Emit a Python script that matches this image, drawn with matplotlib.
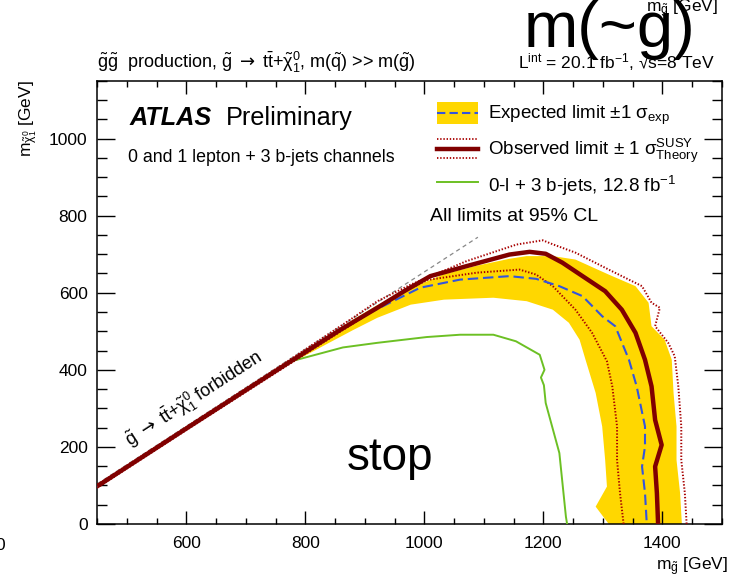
import numpy as np
import matplotlib
matplotlib.use('Agg')
import matplotlib.pyplot as plt
from matplotlib.lines import Line2D
from matplotlib.patches import Rectangle
from matplotlib.legend_handler import HandlerBase
from matplotlib.ticker import MultipleLocator

plt.rcParams['font.family'] = ['Liberation Sans', 'DejaVu Sans']
plt.rcParams['mathtext.fontset'] = 'custom'
plt.rcParams['mathtext.rm'] = 'Liberation Sans'
plt.rcParams['mathtext.it'] = 'Liberation Sans:italic'
plt.rcParams['mathtext.bf'] = 'Liberation Sans:bold'
plt.rcParams['mathtext.sf'] = 'DejaVu Sans'
plt.rcParams['mathtext.default'] = 'regular'
plt.rcParams['lines.scale_dashes'] = False

# m(gluino), m(neutralino) in GeV
# kinematic limit g -> t tbar + chi
diag_x = [450, 1090]
diag_y = [104, 744]

# observed limit
obs_x = [450, 600, 760, 860, 921, 966, 1010, 1071, 1143, 1177, 1204, 1232, 1266,
         1304, 1332, 1355, 1371, 1382, 1388, 1399, 1388, 1391, 1393]
obs_y = [98, 248, 407, 505, 561, 604, 643, 669, 699, 706, 701, 678, 643,
         604, 556, 496, 426, 357, 270, 205, 149, 80, 0]

# observed +1 sigma theory
obs_up_x = [450, 600, 760, 880, 921, 977, 1071, 1155, 1199, 1217, 1254, 1310, 1366,
            1382, 1396, 1388, 1410, 1421, 1427, 1432, 1432, 1438, 1441]
obs_up_y = [102, 252, 412, 535, 578, 621, 682, 725, 736, 725, 704, 660, 617,
            574, 561, 513, 470, 435, 357, 253, 166, 80, 0]

# observed -1 sigma theory
obs_dn_x = [450, 600, 760, 880, 950, 1005, 1088, 1160, 1188, 1216, 1254, 1282, 1307,
            1316, 1324, 1324, 1329, 1335]
obs_dn_y = [94, 244, 402, 520, 590, 633, 652, 660, 647, 617, 556, 496, 422,
            357, 253, 166, 80, 0]

# expected limit
exp_x = [450, 600, 760, 880, 921, 993, 1060, 1143, 1188, 1227, 1266, 1299, 1321,
         1344, 1357, 1371, 1371, 1366, 1371, 1374]
exp_y = [98, 248, 407, 525, 558, 613, 634, 643, 636, 617, 591, 539, 513,
         426, 357, 253, 201, 149, 80, 0]

# expected +-1 sigma band edges
band_up_x = [760, 880, 921, 977, 1033, 1088, 1143, 1172, 1216, 1254, 1310, 1355, 1377,
             1382, 1404, 1416, 1419, 1424, 1424, 1430, 1433]
band_up_y = [410, 530, 568, 612, 648, 670, 688, 695, 695, 686, 647, 617, 574,
             513, 478, 426, 340, 253, 166, 80, 0]
band_dn_x = [760, 830, 880, 921, 977, 1033, 1116, 1172, 1216, 1243, 1261, 1271, 1288,
             1299, 1304, 1307, 1288, 1310]
band_dn_y = [404, 462, 503, 535, 569, 582, 587, 578, 556, 522, 478, 426, 340,
             253, 166, 97, 45, 0]

# older 0-lepton result, 12.8 fb-1
green_x = [550, 771, 863, 921, 1004, 1060, 1116, 1154, 1194, 1202, 1196, 1201, 1204,
           1227, 1238, 1240]
green_y = [200, 420, 458, 470, 485, 491, 491, 474, 439, 400, 380, 360, 314,
           184, 19, 0]

band_col = '#ffd700'
exp_col = '#3355dd'
obs_col = '#800000'
theo_col = '#a80000'
green_col = '#6cc024'


class BandKey(HandlerBase):
    def create_artists(self, legend, orig, xd, yd, w, h, fs, trans):
        yc = h / 2 - yd
        bh = 1.2 * fs
        r = Rectangle((-xd, yc - bh / 2), w, bh, fc=band_col, ec='none', transform=trans)
        l = Line2D([-xd, w - xd], [yc, yc], color=exp_col, lw=1.5, dashes=(6, 3), transform=trans)
        return [r, l]


class ObsKey(HandlerBase):
    def create_artists(self, legend, orig, xd, yd, w, h, fs, trans):
        yc = h / 2 - yd
        off = 0.5 * fs
        out = []
        for dy in (-off, off):
            out.append(Line2D([-xd, w - xd], [yc + dy, yc + dy], color=theo_col, lw=1.3,
                              dashes=(1, 1.3), transform=trans))
        out.append(Line2D([-xd, w - xd], [yc, yc], color=obs_col, lw=3.2, transform=trans))
        return out


fig = plt.figure(figsize=(7.31, 5.77), dpi=100)
ax = fig.add_axes([0.1331, 0.0919, 0.8542, 0.7682])

ax.fill(np.concatenate([band_up_x, band_dn_x[::-1]]),
        np.concatenate([band_up_y, band_dn_y[::-1]]),
        color=band_col, lw=0, zorder=1)
ax.plot(diag_x, diag_y, color='#888888', lw=0.9, dashes=(3, 2.5), zorder=2)
ax.plot(green_x, green_y, color=green_col, lw=1.4, zorder=3)
ax.plot(obs_up_x, obs_up_y, color=theo_col, lw=1.4, dashes=(1, 1.3), zorder=4)
ax.plot(obs_dn_x, obs_dn_y, color=theo_col, lw=1.4, dashes=(1, 1.3), zorder=4)
ax.plot(exp_x, exp_y, color=exp_col, lw=1.5, dashes=(7.5, 3.5), zorder=5)
ax.plot(obs_x, obs_y, color=obs_col, lw=3.2, solid_capstyle='butt', zorder=6)

ax.set_xlim(450, 1500)
ax.set_ylim(0, 1150)
ax.xaxis.set_major_locator(MultipleLocator(200))
ax.xaxis.set_minor_locator(MultipleLocator(50))
ax.yaxis.set_major_locator(MultipleLocator(200))
ax.yaxis.set_minor_locator(MultipleLocator(50))
ax.tick_params(axis='both', which='both', direction='in', top=True, right=True, width=1)
ax.tick_params(axis='x', which='major', length=9.5, pad=9, labelsize=12.5)
ax.tick_params(axis='x', which='minor', length=4.5)
ax.tick_params(axis='y', which='major', length=13, pad=7, labelsize=12.5)
ax.tick_params(axis='y', which='minor', length=7)
for s in ax.spines.values():
    s.set_linewidth(1.1)

# legend
band_proxy = Rectangle((0, 0), 1, 1)
obs_proxy = Line2D([], [])
green_proxy = Line2D([], [], color=green_col, lw=1.4)
ax.legend([band_proxy, obs_proxy, green_proxy],
          ['Expected limit ±1 $\\sigma_{exp}$',
           'Observed limit ± 1 $\\sigma^{SUSY}_{Theory}$',
           '0-l + 3 b-jets, 12.8 fb$^{-1}$'],
          handler_map={band_proxy: BandKey(), obs_proxy: ObsKey()},
          loc='upper left', bbox_to_anchor=(0.5445, 0.958), frameon=False,
          fontsize=13.5, handlelength=2.19, handleheight=1.85, handletextpad=0.53,
          labelspacing=0.43, borderpad=0, borderaxespad=0)

# texts inside the frame
ax.text(0.0514, 0.901, 'ATLAS', transform=ax.transAxes, fontsize=18.2,
        fontweight='bold', fontstyle='italic')
ax.text(0.2065, 0.901, 'Preliminary', transform=ax.transAxes, fontsize=18.2)
ax.text(0.0497, 0.817, '0 and 1 lepton + 3 b-jets channels', transform=ax.transAxes,
        fontsize=12.8)
ax.text(0.533, 0.6835, 'All limits at 95% CL', transform=ax.transAxes, fontsize=14)
ax.text(0.469, 0.122, 'stop', transform=ax.transAxes, fontsize=33, ha='center')
ax.text(505, 200, r'$\tilde{g}\ \mathsf{\rightarrow}\ t\bar{t}$+$\tilde{\chi}^{0}_{1}$ forbidden',
        fontsize=13, rotation=33, rotation_mode='anchor', ha='left', va='baseline')

# texts around the frame
fig.text(0.1331, (577 - 68) / 577,
         r'$\tilde{g}\tilde{g}$  production, $\tilde{g}\ \mathsf{\rightarrow}\ t\bar{t}$+$\tilde{\chi}^{0}_{1}$, m($\tilde{q}$) >> m($\tilde{g}$)',
         fontsize=13, va='baseline')
fig.text(0.978, (577 - 68) / 577, 'L$^{int}$ = 20.1 fb$^{-1}$, √s=8 TeV',
         fontsize=12.5, va='baseline', ha='right')
fig.text(718 / 731, (577 - 12) / 577, r'$m_{\tilde{g}}$ [GeV]', fontsize=12.5,
         ha='right', va='baseline')
fig.text(695 / 731, (577 - 47) / 577, 'm(~g)', fontsize=47, ha='right', va='baseline')
fig.text(728 / 731, (577 - 570) / 577, r'$m_{\tilde{g}}$ [GeV]', fontsize=12.5,
         ha='right', va='baseline')
fig.text(17 / 731, (577 - 80.7) / 577, r'$m_{\tilde{\chi}^{0}_{1}}$ [GeV]', fontsize=12.5,
         rotation=90, ha='left', va='top')
fig.text(0.0, (577 - 546) / 577, '0', fontsize=12.5, ha='center', va='center')

fig.savefig('out.png', dpi=100)
